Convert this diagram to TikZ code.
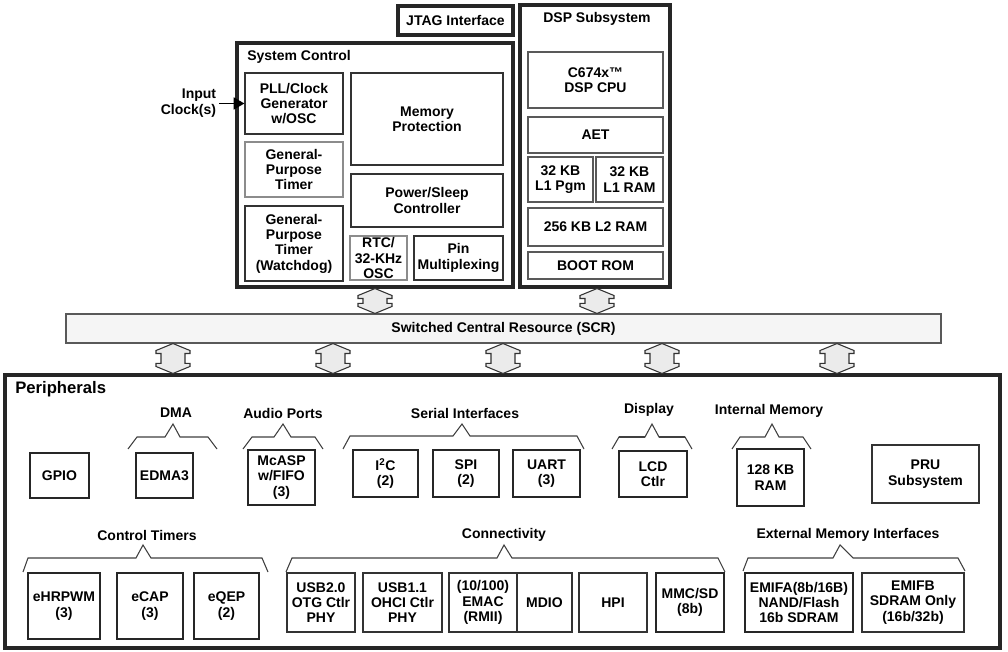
\documentclass[tikz,border=0pt]{standalone}
\usepackage{fontspec}
\setmainfont{Liberation Sans}
\usetikzlibrary{arrows.meta,calc}
\tikzset{
  lbl/.style={font=\bfseries\fontsize{10.5}{11.5}\selectfont, align=center, inner sep=0pt},
  bxbase/.style={lbl, rectangle, anchor=center},
  outerbox/.style={bxbase, draw=black!85, line width=2.3pt},
  thinbox/.style={bxbase, draw=black!80, line width=0.9pt},
  graybox/.style={bxbase, draw=black!45, line width=1pt},
  dspbox/.style={bxbase, draw=black!65, line width=1pt},
  pbox/.style={bxbase, draw=black!85, line width=1.9pt},
  mbox/.style={bxbase, draw=black!80, line width=1.2pt},
  scrbox/.style={bxbase, draw=black!65, fill=black!4, line width=0.8pt},
  brk/.style={draw=black!75, line width=0.8pt, line join=miter},
  blockarr/.style={draw=black!80, fill=black!8, line width=0.8pt, line join=miter},
}
\newcommand\bx[7][thinbox]{\node[#1, minimum width={(#5-#3)*0.75pt}, minimum height={(#6-#4)*0.75pt}] (#2) at ({(#3+#5)/2},{(#4+#6)/2}) {#7};}
\newcommand\barr[3]{%
  \draw[blockarr] let \p0=(#1,0), \p1=(#2.south), \p2=(#3.north) in
   (\x0,\y1) -- ({\x0+12.75pt},{\y1-5.25pt}) -- ({\x0+12.75pt},{\y1-7.5pt}) -- ({\x0+9pt},{\y1-7.5pt})
   -- ({\x0+9pt},{\y2+7.5pt}) -- ({\x0+12.75pt},{\y2+7.5pt}) -- ({\x0+12.75pt},{\y2+5.25pt})
   -- (\x0,\y2) -- ({\x0-12.75pt},{\y2+5.25pt}) -- ({\x0-12.75pt},{\y2+7.5pt}) -- ({\x0-9pt},{\y2+7.5pt})
   -- ({\x0-9pt},{\y1-7.5pt}) -- ({\x0-12.75pt},{\y1-7.5pt}) -- ({\x0-12.75pt},{\y1-5.25pt}) -- cycle;}
\begin{document}
\begin{tikzpicture}[x=0.75pt,y=-0.75pt]
\useasboundingbox (0,0) rectangle (1008,652);
\fill[white] (0,0) rectangle (1008,652);

% JTAG
\bx[outerbox]{jtag}{398}{6}{513}{35}{JTAG Interface}

% System control
\bx[outerbox]{sysctl}{237}{43}{513}{287}{}
\node[lbl, anchor=west] (sctitle) at (247,57) {System Control};
\bx{pll}{245}{73}{343}{134}{PLL/Clock\\Generator\\w/OSC}
\bx[graybox]{gpt}{245}{142}{343}{197}{General-\\Purpose\\Timer}
\bx{wdt}{245}{206}{343}{281}{General-\\Purpose\\Timer\\(Watchdog)}
\bx{memprot}{351}{73}{503}{165}{Memory\\Protection}
\bx{pwr}{351}{174}{503}{227}{Power/Sleep\\Controller}
\bx[graybox]{rtc}{350}{236}{407}{280}{RTC/\\32-KHz\\OSC}
\bx{pinmux}{414}{236}{503}{280}{Pin\\Multiplexing}

\node[lbl, align=right, anchor=east, inner sep=2pt] (inclk) at (219,103) {Input\\Clock(s)};
\draw[line width=1.1pt, -{Triangle[length=8pt,width=9pt]}] (inclk.east |- pll.west) -- (pll.west);

% DSP
\bx[outerbox]{dsp}{520}{5}{670}{287}{}
\node[lbl] (dsptitle) at (597,19) {DSP Subsystem};
\bx[dspbox]{cpu}{528}{52}{663}{108}{C674x™\\DSP CPU}
\bx[dspbox]{aet}{528}{117}{663}{153}{AET}
\bx[dspbox]{l1p}{528}{157}{593}{202}{32 KB\\L1 Pgm}
\bx[dspbox]{l1r}{596}{157}{663}{202}{32 KB\\L1 RAM}
\bx[dspbox]{l2}{528}{208}{663}{246}{256 KB L2 RAM}
\bx[dspbox]{boot}{528}{252}{663}{279}{BOOT ROM}

% SCR
\bx[scrbox]{scr}{66}{314}{941}{343}{Switched Central Resource (SCR)}

% Peripherals
\bx[outerbox]{periph}{5}{375}{1000}{648}{}
\node[lbl, anchor=west, font=\bfseries\fontsize{12.5}{14}\selectfont] (ptitle) at (15,389) {Peripherals};

\barr{375}{sysctl}{scr}
\barr{597}{dsp}{scr}
\barr{173}{scr}{periph}
\barr{333}{scr}{periph}
\barr{503}{scr}{periph}
\barr{662}{scr}{periph}
\barr{837}{scr}{periph}

% Row 1 labels and brackets
\node[lbl] (ldma) at (176,413) {DMA};
\node[lbl] (laudio) at (283,413) {Audio Ports};
\node[lbl] (lserial) at (465,413) {Serial Interfaces};
\node[lbl] (ldisp) at (649,410) {Display};
\node[lbl] (limem) at (769,411) {Internal Memory};
\draw[brk] (128,449)--(137,437)--(165,437)--(173,424)--(180,437)--(208,437)--(217,449);
\draw[brk] (243,449)--(252,437)--(274,437)--(283,424)--(291,437)--(315,437)--(323,449);
\draw[brk] (343,449)--(350,436)--(453,436)--(462,424)--(470,436)--(577,436)--(584,449);
\draw[brk] (612,449)--(619,437)--(645,437)--(652,424)--(659,437)--(685,437)--(692,449);
\draw[brk, line width=1.5pt, line cap=butt] (619,437)--(645,437) (659,437)--(685,437);
\draw[brk] (732,449)--(740,437)--(765,437)--(772,424)--(779,437)--(803,437)--(811,449);

\bx[pbox]{gpio}{30}{453}{89}{498}{GPIO}
\bx[pbox]{edma}{136}{453}{193}{498}{EDMA3}
\bx[pbox]{mcasp}{248}{450}{315}{505}{McASP\\w/FIFO\\(3)}
\bx[pbox]{i2c}{353}{450}{418}{497}{I\textsuperscript{2}C\\(2)}
\bx[pbox]{spi}{433}{450}{499}{497}{SPI\\(2)}
\bx[pbox]{uart}{513}{450}{580}{497}{UART\\(3)}
\bx[pbox]{lcd}{619}{451}{687}{497}{LCD\\Ctlr}
\bx[pbox]{iram}{737}{449}{804}{506}{128 KB\\RAM}
\bx[mbox]{pru}{872}{445}{979}{503}{PRU\\Subsystem}

% Row 2 labels and brackets
\node[lbl] (lctl) at (147,535) {Control Timers};
\node[lbl] (lconn) at (504,535) {Connectivity};
\node[lbl] (lext) at (848,535) {External Memory Interfaces};
\draw[brk] (23,572)--(28,558)--(136,558)--(143,545)--(151,558)--(262,558)--(268,572);
\draw[brk] (286,572)--(292,558)--(497,558)--(504,545)--(512,558)--(718,558)--(725,572);
\draw[brk] (743,571)--(748,558)--(833,558)--(840,545)--(853,558)--(958,558)--(965,571);

\bx[pbox]{ehrpwm}{28}{573}{100}{639}{eHRPWM\\(3)}
\bx[pbox]{ecap}{117}{573}{183}{639}{eCAP\\(3)}
\bx[pbox]{eqep}{194}{573}{259}{639}{eQEP\\(2)}
\bx[mbox]{usb2}{287}{573}{355}{632}{USB2.0\\OTG Ctlr\\PHY}
\bx[mbox]{usb1}{363}{573}{442}{632}{USB1.1\\OHCI Ctlr\\PHY}
\bx[mbox]{emac}{449}{573}{517}{632}{(10/100)\\EMAC\\(RMII)}
\bx[mbox]{mdio}{517}{573}{572}{632}{MDIO}
\bx[mbox]{hpi}{579}{573}{647}{632}{HPI}
\bx[pbox]{mmc}{656}{573}{724}{632}{MMC/SD\\(8b)}
\bx[pbox]{emifa}{745}{573}{853}{632}{EMIFA(8b/16B)\\NAND/Flash\\16b SDRAM}
\bx[mbox]{emifb}{862}{573}{964}{632}{EMIFB\\SDRAM Only\\(16b/32b)}
\end{tikzpicture}
\end{document}
